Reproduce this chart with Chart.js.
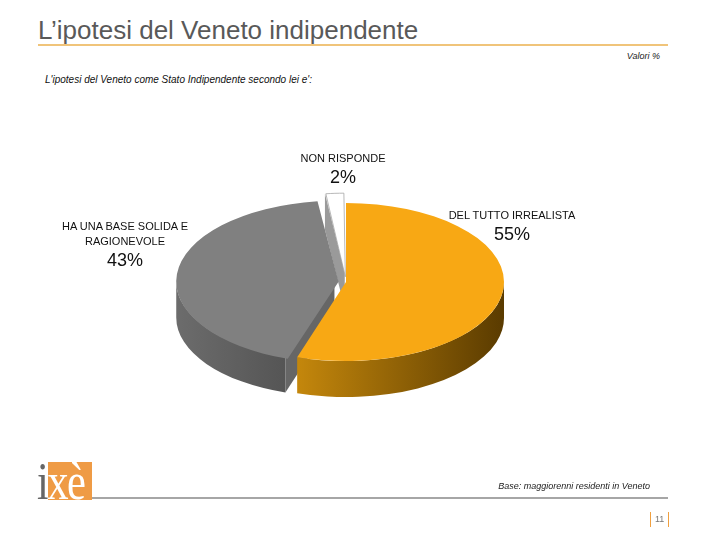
<!DOCTYPE html>
<html lang="it">
<head>
<meta charset="UTF-8">
<title>L'ipotesi del Veneto indipendente</title>
<script src="https://cdn.jsdelivr.net/npm/chart.js"></script>
<style>
  body { margin: 0; background: #fff; font-family: 'Liberation Sans', Arial, sans-serif; }
  #page { position: relative; width: 720px; height: 540px; overflow: hidden; }
  .abs { position: absolute; line-height: 1; white-space: nowrap; }
  #title { left: 38px; top: 17px; font-size: 26px; color: #595959; }
  #rule-top { left: 38px; top: 44px; width: 630px; height: 2px; background: #f0c47a; }
  #valori { right: 60px; top: 52px; font-size: 9px; font-style: italic; color: #222; }
  #subtitle { left: 45px; top: 75px; font-size: 10px; font-style: italic; color: #111; }
  #chart { position: absolute; left: 0; top: 0; }
  .lbl { position: absolute; text-align: center; color: #111; transform: translateX(-50%); }
  .lbl .name { font-size: 11px; line-height: 15px; }
  .lbl .val { font-size: 18px; line-height: 22px; }
  #base { right: 70px; top: 482px; font-size: 9px; font-style: italic; color: #222; }
  #rule-bottom { left: 92px; top: 497px; width: 576px; height: 2px; background: #a6a6a6; }
  #logo-box { left: 48px; top: 462px; width: 44px; height: 38px; background: #ef9b45; }
  #logo { left: 37px; top: 456px; font-family: 'Liberation Serif', serif; font-size: 52px; letter-spacing: -2px; transform: scaleX(0.82); transform-origin: left top; }
  #pg { left: 650px; top: 512px; height: 15px; padding: 0 4px; border-left: 1px solid #f0a040; border-right: 1px solid #f0a040; font-size: 9px; line-height: 15px; color: #777; }
</style>
</head>
<body>
<div id="page">
  <div id="title" class="abs">L’ipotesi del Veneto indipendente</div>
  <div id="rule-top" class="abs"></div>
  <div id="valori" class="abs">Valori %</div>
  <div id="subtitle" class="abs">L'ipotesi del Veneto come Stato Indipendente secondo lei e':</div>
  <canvas id="chart" width="720" height="540"></canvas>
  <div id="labels"></div>
  <div id="base" class="abs">Base: maggiorenni residenti in Veneto</div>
  <div id="rule-bottom" class="abs"></div>
  <div id="logo-box" class="abs"></div>
  <div id="logo" class="abs"><span style="color:#666">i</span><span style="color:#fff">xè</span></div>
  <div id="pg" class="abs">11</div>
</div>

<script>
// --- data ---
const categories = [
  ['DEL TUTTO IRREALISTA'],
  ['HA UNA BASE SOLIDA E', 'RAGIONEVOLE'],
  ['NON RISPONDE']
];
const values = [55, 43, 2];

// colours: top face, side (light end, dark end), cut face
const topColors  = ['#f8a814', '#808080', '#ffffff'];
const sideLight  = ['#c4870c', '#6c6c6c', '#d8d8d8'];
const sideDark   = ['#5a3b00', '#555555', '#b0b0b0'];
const faceColors = ['#8a5c05', '#666666', '#9a9a9a'];

// label blocks (centre x, top y)
const labelPos = [[512, 208], [125, 219], [343, 151]];

const SQUASH = 0.5;   // vertical flattening of the pie
const DEPTH = 36;     // thickness in px

// same translation ArcElement.draw applies for an exploded slice
function sliceGeom(arc) {
  const p = arc.getProps(['x', 'y', 'startAngle', 'endAngle', 'outerRadius', 'circumference'], true);
  const off = (arc.options.offset || 0) / 4;
  const half = (p.startAngle + p.endAngle) / 2;
  const fix = 1 - Math.sin(Math.min(Math.PI, p.circumference || 0));
  const t = off * (1 + fix);
  return {
    cx: p.x + Math.cos(half) * t,
    cy: p.y + SQUASH * Math.sin(half) * t,
    r: p.outerRadius, a0: p.startAngle, a1: p.endAngle
  };
}

function drawFace(ctx, g, ang, color) {
  const rx = g.cx + g.r * Math.cos(ang);
  const ry = g.cy + SQUASH * g.r * Math.sin(ang);
  ctx.beginPath();
  ctx.moveTo(g.cx, g.cy);
  ctx.lineTo(rx, ry);
  ctx.lineTo(rx, ry + DEPTH);
  ctx.lineTo(g.cx, g.cy + DEPTH);
  ctx.closePath();
  ctx.fillStyle = color;
  ctx.fill();
}

function drawSides(ctx, arc, i) {
  const g = sliceGeom(arc);
  // cut faces that look toward the viewer
  if (Math.sin(g.a0 - Math.PI / 2) > -0.2) drawFace(ctx, g, g.a0, faceColors[i]);
  if (Math.sin(g.a1 + Math.PI / 2) > -0.2) drawFace(ctx, g, g.a1, faceColors[i]);
  // curved front wall
  const lo = Math.max(g.a0, 0), hi = Math.min(g.a1, Math.PI);
  if (hi <= lo) return;
  const x0 = g.cx + g.r * Math.cos(lo), x1 = g.cx + g.r * Math.cos(hi);
  const grad = ctx.createLinearGradient(x1, 0, x0, 0);
  grad.addColorStop(0, sideLight[i]);
  grad.addColorStop(1, sideDark[i]);
  ctx.beginPath();
  ctx.ellipse(g.cx, g.cy, g.r, SQUASH * g.r, 0, lo, hi, false);
  ctx.ellipse(g.cx, g.cy + DEPTH, g.r, SQUASH * g.r, 0, hi, lo, true);
  ctx.closePath();
  ctx.fillStyle = grad;
  ctx.fill();
}

const pie3d = {
  id: 'pie3d',
  beforeDatasetDraw(chart, args) {
    const ctx = chart.ctx;
    const arcs = args.meta.data;
    const cy = arcs[0].y;
    ctx.save();
    // back slices first
    [2, 1, 0].forEach(i => drawSides(ctx, arcs[i], i));
    ctx.translate(0, cy);
    ctx.scale(1, SQUASH);
    ctx.translate(0, -cy);
  },
  afterDatasetDraw(chart) {
    chart.ctx.restore();
  }
};

new Chart(document.getElementById('chart'), {
  type: 'pie',
  data: {
    labels: categories.map(c => c.join(' ')),
    datasets: [{
      data: values,
      backgroundColor: topColors,
      borderColor: ['#f8a814', '#808080', '#a0a0a0'],
      borderWidth: [0, 0, 1],
      offset: [0, 30, 42]
    }]
  },
  options: {
    responsive: false,
    animation: false,
    events: [],
    radius: 158,
    rotation: 0,
    layout: { padding: { left: 108, right: 136, top: 102, bottom: 78 } },
    plugins: { legend: { display: false }, tooltip: { enabled: false } }
  },
  plugins: [pie3d]
});

// text labels
const holder = document.getElementById('labels');
categories.forEach((lines, i) => {
  const d = document.createElement('div');
  d.className = 'lbl';
  d.style.left = labelPos[i][0] + 'px';
  d.style.top = labelPos[i][1] + 'px';
  d.innerHTML = lines.map(l => '<div class="name">' + l + '</div>').join('') +
    '<div class="val">' + values[i] + '%</div>';
  holder.appendChild(d);
});
</script>
</body>
</html>
